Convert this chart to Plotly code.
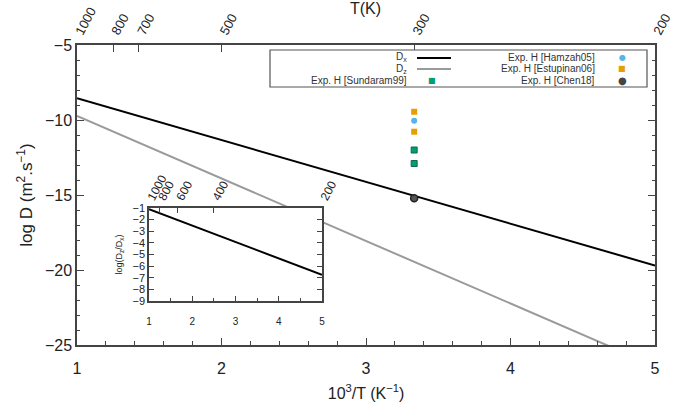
import plotly.graph_objects as go

# ---------------- data ----------------
T_model = [1000, 200]                      # K
logDx = [-8.55, -19.7]                     # log D_x
logDz = [-9.73, -26.4]                     # log D_z
T_inset = [1000, 200]
log_ratio = [-1.1, -6.75]                  # log(Dz/Dx) inset

T_exp = 300
exp_sundaram = [-12.0, -12.9]
exp_hamzah = [-10.05]
exp_estupinan = [-9.45, -10.78]
exp_chen = [-15.22]

top_ticks_T = [1000, 800, 700, 500, 300, 200]
inset_top_ticks_T = [1000, 800, 600, 400, 200]
x_ticks = [1, 2, 3, 4, 5]
y_ticks = [-5, -10, -15, -20, -25]

# ---------------- geometry ----------------
W, H = 674, 402
L, R, Tm, B = 77, 19, 45, 57
PW, PH = W - L - R, H - Tm - B

def px(x, y):
    return (x - L) / PW, (H - B - y) / PH

FONT = "Liberation Sans, Arial, Helvetica, sans-serif"
AX = "#444444"

inv = lambda T: [1000.0 / t for t in T]

fig = go.Figure()

fig.add_trace(go.Scatter(x=inv(T_model), y=logDx, mode="lines",
                         line=dict(color="black", width=2), showlegend=False))
fig.add_trace(go.Scatter(x=inv(T_model), y=logDz, mode="lines",
                         line=dict(color="#9a9a9a", width=2), showlegend=False))

xe = 1000.0 / T_exp
fig.add_trace(go.Scatter(x=[xe] * len(exp_estupinan), y=exp_estupinan, mode="markers",
                         marker=dict(symbol="square", size=6, color="#e69f00"), showlegend=False))
fig.add_trace(go.Scatter(x=[xe] * len(exp_hamzah), y=exp_hamzah, mode="markers",
                         marker=dict(symbol="circle", size=6, color="#56b4e9"), showlegend=False))
fig.add_trace(go.Scatter(x=[xe] * len(exp_sundaram), y=exp_sundaram, mode="markers",
                         marker=dict(symbol="square", size=6, color="#009e73",
                                     line=dict(color="#0b6b50", width=1)), showlegend=False))
fig.add_trace(go.Scatter(x=[xe] * len(exp_chen), y=exp_chen, mode="markers",
                         marker=dict(symbol="circle", size=7, color="#555555",
                                     line=dict(color="#222222", width=1.5)), showlegend=False))
# dummy for top axis
fig.add_trace(go.Scatter(x=[None], y=[None], xaxis="x2", yaxis="y", showlegend=False))

# inset
fig.add_trace(go.Scatter(x=inv(T_inset), y=log_ratio, mode="lines", xaxis="x3", yaxis="y3",
                         line=dict(color="black", width=2), showlegend=False))
fig.add_trace(go.Scatter(x=[None], y=[None], xaxis="x4", yaxis="y3", showlegend=False))

ix0, iy0 = px(149, 301)
ix1, iy1 = px(322, 208)

fig.update_layout(
    width=W, height=H, margin=dict(l=L, r=R, t=Tm, b=B),
    plot_bgcolor="white", paper_bgcolor="white",
    font=dict(family=FONT, color="#222222"),
    xaxis=dict(range=[1, 5], tickvals=x_ticks, ticks="inside", ticklen=7, tickcolor=AX,
               showline=True, linecolor=AX, linewidth=1.5, mirror=True, showgrid=False,
               zeroline=False, tickfont=dict(size=16), automargin=False, ticklabelstandoff=8,
               minor=dict(dtick=0.2, ticks="inside", ticklen=4, tickcolor=AX),
               title=dict(text="10<sup>3</sup>/T (K<sup>−1</sup>)", font=dict(size=16), standoff=16)),
    yaxis=dict(range=[-25, -5], tickvals=y_ticks, ticks="inside", ticklen=7, tickcolor=AX,
               showline=True, linecolor=AX, linewidth=1.5, mirror="ticks", showgrid=False,
               zeroline=False, tickfont=dict(size=16), automargin=False,
               minor=dict(dtick=1, ticks="inside", ticklen=3, tickcolor=AX),
               title=dict(text="log D (m<sup>2</sup>.s<sup>−1</sup>)", font=dict(size=17), standoff=8)),
    xaxis2=dict(overlaying="x", side="top", anchor="y", range=[1, 5], automargin=False,
                tickmode="array", tickvals=inv(top_ticks_T), ticktext=[str(t) for t in top_ticks_T],
                tickangle=-62, ticks="inside", ticklen=7, tickcolor=AX, showgrid=False,
                zeroline=False, tickfont=dict(size=13), showline=False, ticklabelstandoff=2),
    xaxis3=dict(domain=[ix0, ix1], anchor="y3", range=[1, 5], tickvals=x_ticks,
                ticks="inside", ticklen=5, tickcolor=AX, showline=True, linecolor=AX,
                linewidth=1.5, mirror=True, showgrid=False, zeroline=False, automargin=False,
                tickfont=dict(size=10), ticklabelstandoff=10,
                minor=dict(dtick=0.5, ticks="inside", ticklen=3, tickcolor=AX)),
    xaxis4=dict(overlaying="x3", side="top", anchor="y3", range=[1, 5], automargin=False,
                tickmode="array", tickvals=inv(inset_top_ticks_T),
                ticktext=[str(t) for t in inset_top_ticks_T], tickangle=-62,
                ticks="inside", ticklen=5, tickcolor=AX, showgrid=False, zeroline=False,
                tickfont=dict(size=12), showline=False),
    yaxis3=dict(domain=[iy0, iy1], anchor="x3", range=[-9, -1], dtick=1, automargin=False,
                ticks="inside", ticklen=5, tickcolor=AX, showline=True, linecolor=AX,
                linewidth=1.5, mirror="ticks", showgrid=False, zeroline=False,
                tickfont=dict(size=11),
                title=dict(text="log(D<sub>z</sub>/D<sub>x</sub>)", font=dict(size=9), standoff=8)),
)

shapes = []
annotations = []

# legend box
bx0, by0 = px(270, 87)
bx1, by1 = px(647, 50)
shapes.append(dict(type="rect", xref="paper", yref="paper", x0=bx0, y0=by0, x1=bx1, y1=by1,
                   line=dict(color="#555555", width=1.2), fillcolor="white", layer="above"))

def ltext(x, y, text):
    a, b = px(x, y)
    annotations.append(dict(xref="paper", yref="paper", x=a, y=b, text=text, showarrow=False,
                            xanchor="right", yanchor="middle",
                            font=dict(size=10, family=FONT, color="#333333")))

def lline(y, color):
    a0, b = px(417, y)
    a1, _ = px(451, y)
    shapes.append(dict(type="line", xref="paper", yref="paper", x0=a0, x1=a1, y0=b, y1=b,
                       line=dict(color=color, width=2), layer="above"))

def lmark(x, y, sym, color, size=9):
    a, b = px(x, y)
    annotations.append(dict(xref="paper", yref="paper", x=a, y=b, text=sym, showarrow=False,
                            xanchor="center", yanchor="middle",
                            font=dict(size=size, family="DejaVu Sans", color=color)))

ltext(409, 57.5, "D<sub>x</sub>")
lline(58, "black")
ltext(409, 68.5, "D<sub>z</sub>")
lline(69, "#9a9a9a")
ltext(409, 80, "Exp. H [Sundaram99]")
lmark(432, 80, "■", "#009e73", 8)

ltext(597, 57.5, "Exp. H [Hamzah05]")
lmark(622, 57.5, "●", "#56b4e9", 8)
ltext(597, 68.5, "Exp. H [Estupinan06]")
lmark(622, 68.5, "■", "#e69f00", 8)
ltext(597, 80, "Exp. H [Chen18]")
lmark(622, 80, "●", "#444444", 10)

# top title
tx, ty = px(365, 8)
annotations.append(dict(xref="paper", yref="paper", x=tx, y=ty, text="T(K)", showarrow=False,
                        xanchor="center", yanchor="middle", font=dict(size=16, family=FONT)))

fig.update_layout(shapes=shapes, annotations=annotations)

fig.write_html("out.html")
